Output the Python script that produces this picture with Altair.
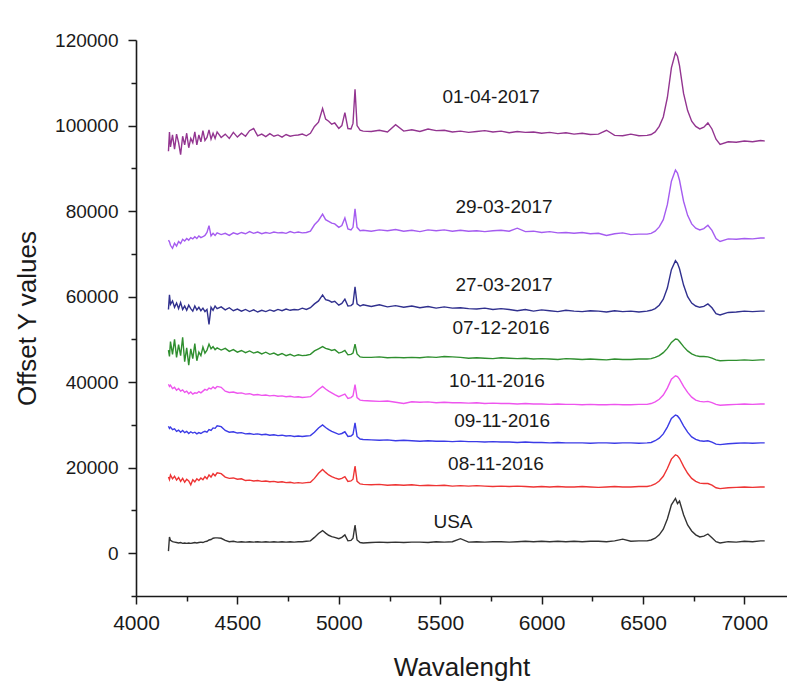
import altair as alt
import pandas as pd

wavelength = [
    4160, 4165, 4170, 4180, 4190, 4200, 4210, 4220, 4230, 4240, 4250, 4260, 4270,
    4280, 4290, 4300, 4310, 4320, 4330, 4340, 4350, 4360, 4370, 4380, 4390, 4400,
    4420, 4440, 4460, 4480, 4500, 4520, 4540, 4560, 4580, 4600, 4620, 4640, 4660,
    4680, 4700, 4720, 4740, 4760, 4780, 4800, 4820, 4840, 4860,
    4880, 4900, 4920, 4935, 4950, 4965, 4980, 5000, 5015, 5030, 5045, 5060, 5070,
    5080, 5090, 5105, 5120,
    5160, 5200, 5240, 5280, 5320, 5360, 5400, 5440, 5480, 5520, 5560, 5600, 5640,
    5680, 5720, 5760, 5800, 5840, 5880, 5920, 5960, 6000, 6040, 6080, 6120, 6160,
    6200, 6240, 6280, 6320, 6360, 6400, 6440, 6480, 6520,
    6540, 6560, 6580, 6600, 6620, 6640, 6660, 6670, 6680, 6700, 6720, 6740, 6760,
    6780, 6800, 6820, 6840, 6860, 6880, 6920, 6960, 7000, 7040, 7080, 7100,
]

s_01_04_2017 = [
    94000, 98500, 95000, 97800, 94500, 98000, 96000, 93200, 97500, 95500, 98200, 94800, 97000,
    96000, 98500, 95500, 97800, 96200, 98800, 96500, 97200, 99000, 96800, 98200, 97000, 98500,
    97200, 98000, 97000, 98400, 97300, 98200, 97500, 98800, 99300, 97600, 98000, 97400, 98100,
    97500, 97800, 97300, 97900, 97500, 97700, 97800, 98000, 97600, 98200,
    99800, 100800, 104000, 101500, 101000, 100300, 100600, 99300, 100000, 103000, 99300, 99200, 100500,
    108500, 100000, 98900, 98700,
    98600, 98900, 98500, 100200, 98700, 99000, 98600, 99200, 98800, 98900, 98500, 98700, 98400,
    98600, 98800, 98500, 98700, 98300, 98600, 98400, 98500, 98200, 98400, 98100, 98300, 98000,
    98200, 97900, 98000, 98900, 97700, 97600, 98000, 97600, 97700,
    97900, 98500, 99800, 102000, 106500, 113500, 117000, 116200, 114000, 107500, 103500, 101000, 99800,
    99200, 99600, 100600, 99200, 96800, 95600, 96200, 96100, 96400, 96200, 96500, 96400,
]

s_29_03_2017 = [
    73200, 72800, 72000, 71300, 72500, 71800, 72900, 72400, 73400, 73000, 73600, 73200, 73800,
    73500, 74000, 73600, 74200, 73800, 74000, 74300, 75000, 76600, 74200, 74800, 74300, 74900,
    74500, 74800, 74300, 74900, 74600, 75000, 74700, 75200, 74800, 75100, 74700, 75000, 74800,
    75100, 74900, 75000, 74800, 75200, 74900, 75100, 74900, 75000, 75300,
    76800, 77800, 79300, 78000, 77600, 77200, 77000, 76200, 76600, 78400, 75800, 75600, 76200,
    80500, 76200, 75400, 75500,
    75300, 75600, 75400, 75700, 75300, 75500, 75200, 75600, 75400, 75600, 75300, 75500, 75300,
    75400, 75200, 75400, 75500, 75300, 76000, 75200, 75300, 75000, 75200, 74900, 75000, 74800,
    75000, 74700, 74800, 74300, 74700, 74900, 74500, 74600, 74600,
    74800, 75300, 76300, 78000, 81500, 87000, 89600, 88900, 87200, 82300, 79000, 77000, 76000,
    75600, 75900, 76700, 75500, 73600, 72900, 73500, 73400, 73600, 73500, 73700, 73700,
]

s_27_03_2017 = [
    57000, 60400, 58200, 59000, 57500, 58500, 57200, 58600, 57000, 57800, 56800, 58000, 57200,
    56600, 57800, 56900, 57500, 56700, 57300, 56500, 57000, 53500, 57500, 56800, 57800, 57200,
    57600, 56900, 57400, 56700, 57100, 56600, 57000, 56500, 56900, 56400, 56800, 56500, 56900,
    56600, 57000, 56700, 57100, 56800, 57000, 56900, 57300, 57000, 57400,
    58300, 59000, 60400, 59300, 59100, 58700, 58900, 58000, 58400, 59400, 57800, 57900, 58300,
    62300, 58300, 57800, 58100,
    57700, 58100, 57600, 57900, 57500, 57800, 57400, 57700, 57300, 57600, 57300, 57400, 57200,
    57100, 57300, 57000, 57200, 57000, 56700, 57000, 56600, 56900, 56700, 56500, 56800, 56600,
    56500, 56700, 56600, 56400, 56700, 56500, 56600, 56400, 56600,
    56800, 57200, 58000, 59400, 62000, 66300, 68400, 67800, 66500, 62700, 60000, 58500, 57800,
    57500, 57700, 58300, 57400, 56000, 55700, 56300, 56400, 56600, 56500, 56600, 56600,
]

s_07_12_2016 = [
    47500, 46000, 49500, 46500, 50000, 45800, 48800, 46200, 50500, 44800, 48000, 44000, 47800,
    45500, 49000, 45000, 47000, 46200, 48200, 46800, 47500, 48900, 47800, 48300, 47600, 48000,
    47500, 47900, 47200, 47600, 47000, 47400, 46900, 47300, 46800, 47100, 46600, 47000, 46500,
    46800, 46300, 46700, 46200, 46500, 46100, 46400, 46200, 46300, 46500,
    47300, 47800, 48300, 47900, 47700, 47400, 47600, 46800, 47000, 47400, 46400, 46500, 46800,
    48900, 46600, 45900, 45800,
    45800, 45900, 45700, 45800, 45700, 45800, 45700, 45900, 45800, 46000, 45900, 45800, 45600,
    45700, 45600, 45500, 45700, 45600, 45500, 45600, 45400, 45500, 45400, 45300, 45500, 45400,
    45300, 45400, 45300, 45200, 45400, 45300, 45300, 45400, 45400,
    45500, 45800, 46200, 46900, 47900, 49300, 50100, 50000, 49500, 48300, 47300, 46600, 46200,
    46000, 46000, 45900, 45600, 45200, 45000, 45100, 45100, 45200, 45100, 45200, 45200,
]

s_10_11_2016 = [
    39500, 39000, 39300, 38500, 38800, 38100, 38500, 37900, 38200, 37600, 37900, 37300, 37700,
    37200, 37500, 37400, 37800, 37500, 37900, 38300, 38100, 38600, 38400, 38900, 38500, 39000,
    38800, 37900, 37600, 37700, 37400, 37500, 37200, 37300, 37000, 37100, 36900, 37000, 36800,
    36900, 36700, 36800, 36600, 36700, 36500, 36600, 36400, 36500, 36600,
    37400, 38300, 39000, 38400, 37900, 37500, 37100, 36600, 36900, 37200, 36200, 36400, 36800,
    39400, 36400, 35800, 35700,
    35600, 35500, 35600, 35300, 35000, 35400, 35300, 35400, 35200, 35300, 35200, 35200, 35100,
    35200, 35000, 35100, 35000, 35000, 34900, 35000, 34900, 34900, 34800, 34900, 34800, 34800,
    34700, 34800, 34700, 34700, 34800, 34700, 34700, 34800, 34800,
    35000, 35400, 36000, 37000, 38600, 40700, 41500, 41300, 40700, 39000, 37600, 36500, 35800,
    35500, 35400, 35500, 35200, 34800, 34600, 34700, 34800, 34900, 34800, 34900, 34900,
]

s_09_11_2016 = [
    29700, 29200, 29500, 28900, 29100, 28500, 28800, 28300, 28700, 28200, 28500, 28000, 28400,
    28100, 28300, 27900, 28200, 28000, 28300, 28500, 28300, 28900, 28700, 29300, 29200, 29800,
    29600, 28700, 28300, 28400, 28100, 28200, 27900, 28000, 27800, 27900, 27700, 27800, 27600,
    27700, 27500, 27600, 27400, 27500, 27300, 27400, 27300, 27400, 27500,
    28300, 29300, 30000, 29400, 28900, 28500, 28200, 27800, 28000, 28400, 27300, 27400, 27800,
    30500, 27300, 26700, 26600,
    26500, 26400, 26500, 26300, 26400, 26300, 26200, 26300, 26200, 26200, 26100, 26200, 26100,
    26100, 26000, 26100, 26000, 26000, 25900, 26000, 25900, 25900, 25800, 25900, 25800, 25800,
    25800, 25700, 25800, 25800, 25700, 25800, 25800, 25700, 25800,
    25900, 26300, 26900, 27900, 29500, 31500, 32300, 32100, 31500, 29800, 28300, 27200, 26600,
    26300, 26200, 26300, 26000, 25500, 25400, 25600, 25700, 25800, 25700, 25800, 25800,
]

s_08_11_2016 = [
    17800, 17200, 18300, 17400, 18000, 17100, 17700, 16800, 17500, 16600, 17300, 16900, 16000,
    17200, 16700, 17400, 17000, 17600, 17200, 17900, 17400, 18300, 17800, 18600, 18100, 18800,
    18600, 17800, 17500, 17600, 17300, 17400, 17000, 17100, 16900, 17000, 16800, 16900, 16700,
    16800, 16600, 16700, 16500, 16600, 16400, 16500, 16400, 16500, 16600,
    17500, 18700, 19600, 18900, 18300, 17900, 17600, 17300, 17500, 17900, 16800, 16900, 17300,
    20400, 16800, 16200, 16100,
    16000, 16100, 15900, 16000, 15900, 16000, 15800, 15900, 15800, 15900, 15700, 15800, 15700,
    15800, 15700, 15600, 15700, 15600, 15700, 15600, 15500, 15600, 15500, 15600, 15500, 15500,
    15600, 15500, 15400, 15500, 15600, 15500, 15500, 15600, 15600,
    15800, 16200, 16900, 18000, 19800, 22000, 23000, 22800, 22200, 20300, 18700, 17500, 16800,
    16400, 16300, 16300, 15900, 15300, 15100, 15300, 15400, 15500, 15400, 15500, 15500,
]

s_usa = [
    500, 3800, 3000, 2700, 2600, 2500, 2400, 2500, 2300, 2400, 2300, 2400, 2300,
    2400, 2500, 2400, 2500, 2600, 2500, 2700, 2800, 3100, 3200, 3500, 3600, 3600,
    3500, 3000, 2700, 2800, 2600, 2700, 2600, 2700, 2600, 2700, 2600, 2700, 2600,
    2700, 2600, 2700, 2600, 2700, 2600, 2700, 2700, 2800, 2900,
    3700, 4600, 5300, 4700, 4200, 3900, 3700, 3400, 3700, 4300, 2900, 3000, 3500,
    6600, 3100, 2500, 2400,
    2500, 2600, 2500, 2600, 2500, 2600, 2600, 2500, 2700, 2600, 2700, 3400, 2600,
    2700, 2600, 2700, 2700, 2600, 2700, 2800, 2700, 2800, 2700, 2800, 2700, 2800,
    2700, 2800, 2800, 2700, 2900, 3300, 2800, 2900, 2900,
    3100, 3500, 4300, 5600, 8000, 11300, 12800, 11600, 12200, 9000, 6600, 5200, 4300,
    3800, 4000, 4500, 3600, 2700, 2400, 2700, 2600, 2800, 2700, 2900, 2900,
]

series_names = ["01-04-2017", "29-03-2017", "27-03-2017", "07-12-2016",
                "10-11-2016", "09-11-2016", "08-11-2016", "USA"]
series_values = [s_01_04_2017, s_29_03_2017, s_27_03_2017, s_07_12_2016,
                 s_10_11_2016, s_09_11_2016, s_08_11_2016, s_usa]
series_colors = ["#933590", "#a55cf0", "#30308e", "#2f8f2f",
                 "#ee55ee", "#3b3be6", "#ee3434", "#333333"]

label_x = [5751, 5815, 5815, 5800, 5780, 5805, 5775, 5563]
label_y = [106700, 80900, 62700, 52700, 40300, 30900, 20900, 7300]

rows = []
for name, vals in zip(series_names, series_values):
    assert len(vals) == len(wavelength), (name, len(vals))
    for w, v in zip(wavelength, vals):
        rows.append({"series": name, "wavelength": w, "value": v})
df = pd.DataFrame(rows)

labels_df = pd.DataFrame({"label": series_names, "x": label_x, "y": label_y})

font = "Liberation Sans"

x_scale = alt.Scale(domain=[4000, 7210], nice=False, zero=False)
y_scale = alt.Scale(domain=[-10000, 120000], nice=False, zero=False)

x_axis = alt.Axis(
    title="Wavalenght",
    values=list(range(4000, 7201, 250)),
    labelExpr="datum.value % 500 === 0 ? datum.value : ''",
    labelOverlap=False,
    labelFlush=False,
    grid=False,
    tickSize={"condition": {"test": "datum.value % 500 === 0", "value": 8}, "value": 5},
    labelFontSize=21,
    labelPadding=8,
    titleFontSize=26,
    titleFontWeight="normal",
    titlePadding=21,
)
y_axis = alt.Axis(
    title="Offset Y values",
    values=list(range(-10000, 120001, 10000)),
    labelExpr="datum.value % 20000 === 0 ? datum.value : ''",
    labelOverlap=False,
    labelFlush=False,
    grid=False,
    tickSize={"condition": {"test": "datum.value % 20000 === 0", "value": 8}, "value": 5},
    labelFontSize=19,
    labelPadding=10,
    titleFontSize=26,
    titleFontWeight="normal",
    titlePadding=14,
)

lines = alt.Chart(df).mark_line(strokeWidth=1.4).encode(
    x=alt.X("wavelength:Q", scale=x_scale, axis=x_axis),
    y=alt.Y("value:Q", scale=y_scale, axis=y_axis),
    color=alt.Color("series:N", scale=alt.Scale(domain=series_names, range=series_colors), legend=None),
    detail="series:N",
    order="wavelength:Q",
)

texts = alt.Chart(labels_df).mark_text(
    font=font, fontSize=19, color="#1a1a1a", align="center", baseline="middle"
).encode(
    x=alt.X("x:Q", scale=x_scale),
    y=alt.Y("y:Q", scale=y_scale),
    text="label:N",
)

chart = alt.layer(lines, texts).properties(
    width=651,
    height=556,
    autosize=alt.AutoSizeParams(type="none"),
    padding={"left": 136, "top": 40, "right": 0, "bottom": 85},
    background="white",
).configure_view(
    stroke=None
).configure_axis(
    labelFont=font,
    titleFont=font,
    labelColor="#1a1a1a",
    titleColor="#1a1a1a",
    domainColor="#1a1a1a",
    tickColor="#1a1a1a",
    domainWidth=1.6,
    tickWidth=1.5,
)

chart.save("out.html", embed_options={"renderer": "svg", "actions": False})
